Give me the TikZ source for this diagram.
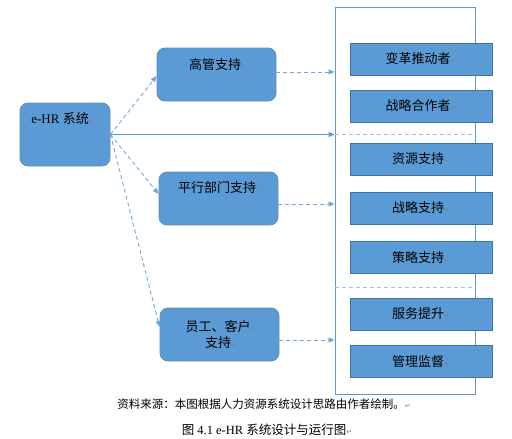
\documentclass[tikz,border=0pt]{standalone}
\usepackage{fontspec}
\setmainfont{Liberation Serif}
\newfontfamily\cjk{Noto Sans CJK SC}
\newfontfamily\symfont{DejaVu Sans}
\usetikzlibrary{arrows.meta}
\definecolor{boxblue}{HTML}{5B9BD5}
\definecolor{boxline}{HTML}{41719C}
\definecolor{linkblue}{HTML}{6FA8DC}
\definecolor{seplight}{HTML}{9DC3E6}
\newcommand{\pmark}{{\symfont\color{gray}\fontsize{7}{7}\selectfont ↵}}
\tikzset{
  roundbox/.style={rounded corners=8pt, fill=boxblue, draw=boxline!80, line width=0.8pt, minimum width=119pt, minimum height=53pt, inner sep=0pt},
  rolebox/.style={fill=boxblue, draw=boxline, line width=0.8pt, minimum width=142pt, minimum height=32pt, inner sep=0pt, font=\cjk\fontsize{13}{13}\selectfont},
  boxtext/.style={font=\cjk\fontsize{13}{16}\selectfont, align=center, inner sep=0pt},
  dashlink/.style={draw=linkblue, dash pattern=on 4pt off 3pt, line width=0.9pt, -{Triangle[length=6pt,width=5pt]}},
  solidlink/.style={draw=boxblue, line width=0.9pt, -{Triangle[length=6pt,width=5pt]}}
}
\begin{document}
\begin{tikzpicture}[x=1pt,y=-1pt]
    \useasboundingbox (0,0) rectangle (512,439);
    % Frame
    \node[draw=boxblue, line width=0.8pt, minimum width=140pt, minimum height=387pt, inner sep=0pt] (frame) at (405,200.5) {};
    \draw[draw=seplight, dash pattern=on 4pt off 3pt, line width=0.9pt] (frame.west |- 0,134) -- (frame.east |- 0,134);
    \draw[draw=seplight, dash pattern=on 4pt off 3pt, line width=0.9pt] (frame.west |- 0,287) -- (frame.east |- 0,287);
    % Roles
    \foreach \name/\i/\y in {变革推动者/1/59,战略合作者/2/106,资源支持/3/159,战略支持/4/208,策略支持/5/257.5,服务提升/6/314,管理监督/7/361.5} {
        \node[rolebox] (Role-\i) at (421,\y) {\name\pmark};
    }
    % System
    \node[roundbox, minimum width=90pt, minimum height=63pt] (System) at (65,134.5) {};
    \node[boxtext, font=\fontsize{13}{16}\selectfont] at (63,119) {e-HR {\cjk 系统}\pmark};
    % Support
    \node[roundbox] (Exec) at (216.5,74.5) {};
    \node[boxtext] at (218,65) {高管支持\pmark};
    \node[roundbox] (Dept) at (218.5,198.5) {};
    \node[boxtext] at (220,188) {平行部门支持\pmark};
    \node[roundbox] (Staff) at (219.5,334.5) {};
    \node[boxtext] at (221,334) {员工、客户\pmark\\支持\pmark};
    % Arrows
    \draw[dashlink] (System.east) -- ([yshift=-1.5pt]Exec.west);
    \draw[dashlink] (System.east) -- ([yshift=4.5pt]Dept.west);
    \draw[dashlink] (System.east) -- ([yshift=7.5pt]Staff.west);
    \draw[solidlink] (System.east) -- (System.east -| frame.west);
    \draw[dashlink] ([yshift=2.5pt]Exec.east) -- ([yshift=2.5pt]Exec.east -| frame.west);
    \draw[dashlink] ([yshift=-5.5pt]Dept.east) -- ([yshift=-5.5pt]Dept.east -| frame.west);
    \draw[dashlink] ([yshift=-5.5pt]Staff.east) -- ([yshift=-5.5pt]Staff.east -| frame.west);
    % Captions
    \node[font=\cjk\fontsize{11.5}{12}\selectfont, inner sep=0pt] (Source) at (264,404) {资料来源：本图根据人力资源系统设计思路由作者绘制。\pmark};
    \node[font=\fontsize{12.5}{13}\selectfont, inner sep=0pt] (Caption) at (267,430) {{\cjk 图} 4.1 e-HR {\cjk 系统设计与运行图}\pmark};
\end{tikzpicture}
\end{document}
